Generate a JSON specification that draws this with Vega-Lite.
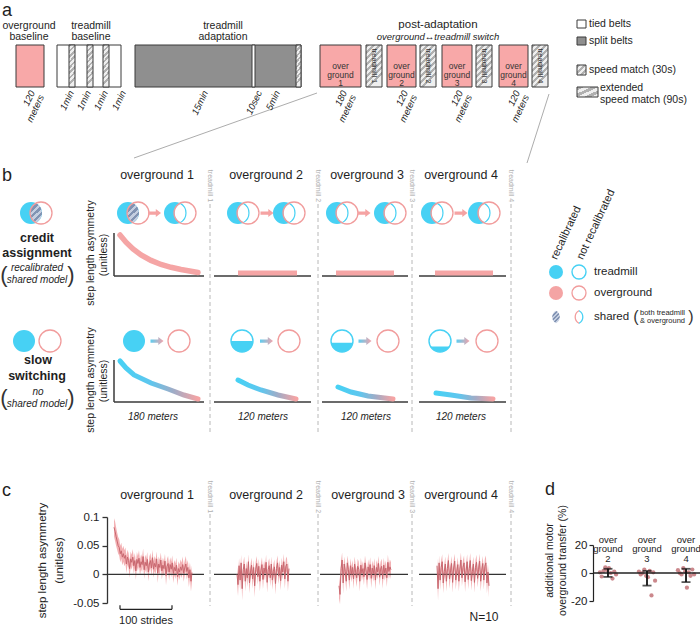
{
"$schema": "https://vega.github.io/schema/vega-lite/v6.json",
"padding": 0,
"bounds": "flush",
"spacing": 0,
"config": {"view": {"stroke": null}, "font": "Liberation Sans", "text": {"color": "#1e1e1e"}},
"datasets": {
"blk": [
{"x":15,"x2":43,"y":45,"y2":87,"k":"og"},
{"x":56,"x2":120,"y":45,"y2":87,"k":"tied"},
{"x":134,"x2":300,"y":45,"y2":87,"k":"split"},
{"x":251,"x2":254,"y":45,"y2":87,"k":"tied"},
{"x":319,"x2":360,"y":45,"y2":87,"k":"og"},
{"x":386,"x2":415,"y":45,"y2":87,"k":"og"},
{"x":441,"x2":471,"y":45,"y2":87,"k":"og"},
{"x":498,"x2":527,"y":45,"y2":87,"k":"og"},
{"x":576,"x2":585,"y":20,"y2":28,"k":"tied"},
{"x":576,"x2":585,"y":37,"y2":45,"k":"split"}
],
"hat": [
{"x":68,"x2":74,"y":45,"y2":87,"k":"thin"},
{"x":86,"x2":92,"y":45,"y2":87,"k":"thin"},
{"x":102,"x2":108,"y":45,"y2":87,"k":"thin"},
{"x":295,"x2":300,"y":45,"y2":87,"k":"thin"},
{"x":365,"x2":381,"y":45,"y2":87,"k":"box"},
{"x":419,"x2":435,"y":45,"y2":87,"k":"box"},
{"x":475,"x2":491,"y":45,"y2":87,"k":"box"},
{"x":531,"x2":547,"y":45,"y2":87,"k":"box"},
{"x":576,"x2":585,"y":65,"y2":75,"k":"leg"},
{"x":576,"x2":597,"y":87,"y2":97,"k":"leg"}
],
"ln": [
{"x":133,"y":158,"x2":316,"y2":93,"k":"conn"},
{"x":548,"y":94,"x2":526,"y2":163,"k":"conn"},
{"x":113,"y":233,"x2":113,"y2":276,"k":"ax"},
{"x":113,"y":276,"x2":203,"y2":276,"k":"ax"},
{"x":213,"y":276,"x2":310,"y2":276,"k":"ax"},
{"x":321,"y":276,"x2":407,"y2":276,"k":"ax"},
{"x":418,"y":276,"x2":505,"y2":276,"k":"ax"},
{"x":113,"y":360,"x2":113,"y2":402,"k":"ax"},
{"x":113,"y":402,"x2":203,"y2":402,"k":"ax"},
{"x":213,"y":402,"x2":310,"y2":402,"k":"ax"},
{"x":321,"y":402,"x2":407,"y2":402,"k":"ax"},
{"x":418,"y":402,"x2":505,"y2":402,"k":"ax"},
{"x":237,"y":273,"x2":296,"y2":273,"k":"pb"},
{"x":335,"y":273,"x2":393,"y2":273,"k":"pb"},
{"x":434,"y":273,"x2":492,"y2":273,"k":"pb"}
],
"sepl": [
{"x":209,"y":204,"y2":435},{"x":317,"y":204,"y2":435},{"x":411,"y":204,"y2":435},{"x":510,"y":204,"y2":435},
{"x":209,"y":514,"y2":606},{"x":317,"y":514,"y2":606},{"x":411,"y":514,"y2":606},{"x":510,"y":514,"y2":606}
],
"cv": [
{"id":"c1","x":119,"y":235},{"id":"c1","x":125,"y":242.2},{"id":"c1","x":132,"y":248.9},{"id":"c1","x":140,"y":254.9},{"id":"c1","x":150,"y":260.4},{"id":"c1","x":160,"y":264.5},{"id":"c1","x":170,"y":267.3},{"id":"c1","x":180,"y":269.5},{"id":"c1","x":190,"y":271.3},{"id":"c1","x":197,"y":272.5},
{"id":"s1","x":119,"y":361},{"id":"s1","x":125,"y":368},{"id":"s1","x":133,"y":375},{"id":"s1","x":150,"y":383},{"id":"s1","x":167,"y":389},{"id":"s1","x":183,"y":395},{"id":"s1","x":197,"y":399},
{"id":"s2","x":237,"y":380},{"id":"s2","x":247,"y":385},{"id":"s2","x":260,"y":390},{"id":"s2","x":277,"y":395},{"id":"s2","x":295,"y":399},
{"id":"s3","x":337,"y":387},{"id":"s3","x":350,"y":392},{"id":"s3","x":367,"y":396},{"id":"s3","x":392,"y":399},
{"id":"s4","x":435,"y":393},{"id":"s4","x":450,"y":395},{"id":"s4","x":470,"y":398},{"id":"s4","x":492,"y":399}
],
"ic": [
{"x":30,"y":213,"k":"cf","r":"big"},{"x":35,"y":213,"k":"lh","r":"big"},{"x":40,"y":213,"k":"pr","r":"big"},
{"x":127,"y":213,"k":"cf","r":"big"},{"x":132,"y":213,"k":"lh","r":"big"},{"x":137,"y":213,"k":"pr","r":"big"},
{"x":174,"y":213,"k":"cf","r":"big"},{"x":179,"y":213,"k":"lw","r":"big"},{"x":184,"y":213,"k":"pr","r":"big"},
{"x":237,"y":213,"k":"cf","r":"big"},{"x":242,"y":213,"k":"lw","r":"big"},{"x":247,"y":213,"k":"pr","r":"big"},
{"x":283,"y":213,"k":"cf","r":"big"},{"x":288,"y":213,"k":"lw","r":"big"},{"x":293,"y":213,"k":"pr","r":"big"},
{"x":336,"y":213,"k":"cf","r":"big"},{"x":341,"y":213,"k":"lw","r":"big"},{"x":346,"y":213,"k":"pr","r":"big"},
{"x":384,"y":213,"k":"cf","r":"big"},{"x":389,"y":213,"k":"lw","r":"big"},{"x":394,"y":213,"k":"pr","r":"big"},
{"x":431,"y":213,"k":"cf","r":"big"},{"x":436,"y":213,"k":"lw","r":"big"},{"x":441,"y":213,"k":"pr","r":"big"},
{"x":478,"y":213,"k":"cf","r":"big"},{"x":483,"y":213,"k":"lw","r":"big"},{"x":488,"y":213,"k":"pr","r":"big"},
{"x":23,"y":341,"k":"cf","r":"big"},{"x":49,"y":341,"k":"pr","r":"big"},
{"x":133,"y":341,"k":"cf","r":"big"},{"x":178,"y":341,"k":"pr","r":"big"},
{"x":241,"y":341,"k":"h50","r":"big"},{"x":241,"y":341,"k":"cr","r":"big"},{"x":288,"y":341,"k":"pr","r":"big"},
{"x":341,"y":341,"k":"h42","r":"big"},{"x":341,"y":341,"k":"cr","r":"big"},{"x":387,"y":341,"k":"pr","r":"big"},
{"x":439,"y":341,"k":"h25","r":"big"},{"x":439,"y":341,"k":"cr","r":"big"},{"x":486,"y":341,"k":"pr","r":"big"},
{"x":555,"y":272,"k":"cf","r":"small"},{"x":578,"y":272,"k":"cr","r":"small"},
{"x":555,"y":293,"k":"pf","r":"small"},{"x":578,"y":293,"k":"pr","r":"small"},
{"x":555,"y":317,"k":"lh","r":"small"},{"x":578,"y":317,"k":"lo","r":"small"}
],
"ar": [
{"x":153.5,"y":213,"k":"p"},{"x":266,"y":213,"k":"p"},{"x":363,"y":213,"k":"p"},{"x":460,"y":213,"k":"p"},
{"x":156,"y":341,"k":"g"},{"x":265.5,"y":341,"k":"g"},{"x":364,"y":341,"k":"g"},{"x":462,"y":341,"k":"g"}
],
"txt": [
{"x":1,"y":11,"t":"a","k":"letter"},
{"x":28,"y":26,"t":"overground","k":"head"},
{"x":28,"y":37,"t":"baseline","k":"head"},
{"x":90,"y":26,"t":"treadmill","k":"head"},
{"x":90,"y":37,"t":"baseline","k":"head"},
{"x":222,"y":26,"t":"treadmill","k":"head"},
{"x":222,"y":37,"t":"adaptation","k":"head"},
{"x":437,"y":25,"t":"post-adaptation","k":"headL"},
{"x":437,"y":37,"t":"overground↔treadmill switch","k":"headI"},
{"x":339.5,"y":66,"t":["over","ground","1"],"k":"box"},
{"x":400.5,"y":66,"t":["over","ground","2"],"k":"box"},
{"x":456,"y":66,"t":["over","ground","3"],"k":"box"},
{"x":512.5,"y":66,"t":["over","ground","4"],"k":"box"},
{"x":373,"y":66,"t":"treadmill 1","k":"vert"},
{"x":427,"y":66,"t":"treadmill 2","k":"vert"},
{"x":483,"y":66,"t":"treadmill 3","k":"vert"},
{"x":539,"y":66,"t":"treadmill 4","k":"vert"},
{"x":27,"y":89,"t":["120","meters"],"k":"rot"},
{"x":66,"y":89,"t":"1min","k":"rot"},
{"x":83,"y":89,"t":"1min","k":"rot"},
{"x":100,"y":89,"t":"1min","k":"rot"},
{"x":118,"y":89,"t":"1min","k":"rot"},
{"x":200,"y":89,"t":"15min","k":"rot"},
{"x":254,"y":89,"t":"10sec","k":"rot"},
{"x":272,"y":89,"t":"5min","k":"rot"},
{"x":339,"y":89,"t":["180","meters"],"k":"rot"},
{"x":400,"y":89,"t":["120","meters"],"k":"rot"},
{"x":455,"y":89,"t":["120","meters"],"k":"rot"},
{"x":512,"y":89,"t":["120","meters"],"k":"rot"},
{"x":588,"y":24,"t":"tied belts","k":"leg"},
{"x":588,"y":41,"t":"split belts","k":"leg"},
{"x":588,"y":70,"t":"speed match (30s)","k":"leg"},
{"x":599,"y":88,"t":"extended","k":"leg"},
{"x":599,"y":100,"t":"speed match (90s)","k":"leg"},
{"x":1,"y":176,"t":"b","k":"letter"},
{"x":156,"y":175,"t":"overground 1","k":"col"},
{"x":265,"y":175,"t":"overground 2","k":"col"},
{"x":366,"y":175,"t":"overground 3","k":"col"},
{"x":460,"y":175,"t":"overground 4","k":"col"},
{"x":209,"y":186,"t":"treadmill 1","k":"sep"},
{"x":317,"y":186,"t":"treadmill 2","k":"sep"},
{"x":411,"y":186,"t":"treadmill 3","k":"sep"},
{"x":510,"y":186,"t":"treadmill 4","k":"sep"},
{"x":36,"y":238,"t":"credit","k":"bold"},
{"x":36,"y":253,"t":"assignment","k":"bold"},
{"x":36,"y":268,"t":"recalibrated","k":"ital"},
{"x":36,"y":280,"t":"shared model","k":"ital"},
{"x":3,"y":275,"t":"(","k":"paren"},
{"x":70,"y":275,"t":")","k":"paren"},
{"x":37,"y":360,"t":"slow","k":"bold"},
{"x":36,"y":376,"t":"switching","k":"bold"},
{"x":37,"y":392,"t":"no","k":"ital"},
{"x":36,"y":404,"t":"shared model","k":"ital"},
{"x":3,"y":398,"t":"(","k":"paren"},
{"x":70,"y":398,"t":")","k":"paren"},
{"x":90,"y":253,"t":"step length asymmetry","k":"ytitle"},
{"x":103,"y":255,"t":"(unitless)","k":"ytitle"},
{"x":90,"y":380,"t":"step length asymmetry","k":"ytitle"},
{"x":103,"y":381,"t":"(unitless)","k":"ytitle"},
{"x":152,"y":417,"t":"180 meters","k":"mlab"},
{"x":262,"y":417,"t":"120 meters","k":"mlab"},
{"x":365,"y":417,"t":"120 meters","k":"mlab"},
{"x":460,"y":417,"t":"120 meters","k":"mlab"},
{"x":553,"y":259,"t":"recalibrated","k":"legrot"},
{"x":579,"y":259,"t":"not recalibrated","k":"legrot"},
{"x":593,"y":272,"t":"treadmill","k":"leg14"},
{"x":593,"y":293,"t":"overground","k":"leg14"},
{"x":593,"y":317,"t":"shared","k":"leg14"},
{"x":639,"y":313,"t":"both treadmill","k":"small"},
{"x":639,"y":321,"t":"& overground","k":"small"},
{"x":635,"y":317,"t":"(","k":"paren2"},
{"x":690,"y":317,"t":")","k":"paren2"},
{"x":1,"y":491,"t":"c","k":"letter"},
{"x":156,"y":495,"t":"overground 1","k":"col"},
{"x":265,"y":495,"t":"overground 2","k":"col"},
{"x":367,"y":495,"t":"overground 3","k":"col"},
{"x":460,"y":495,"t":"overground 4","k":"col"},
{"x":209,"y":497,"t":"treadmill 1","k":"sep"},
{"x":317,"y":497,"t":"treadmill 2","k":"sep"},
{"x":411,"y":497,"t":"treadmill 3","k":"sep"},
{"x":510,"y":497,"t":"treadmill 4","k":"sep"},
{"x":544,"y":490,"t":"d","k":"letter"},
{"x":483,"y":617,"t":"N=10","k":"n"}
],
"ts": [
{"p":1,"s":0,"m":0.082,"lo":0.066,"hi":0.098},{"p":1,"s":2,"m":0.075,"lo":0.058,"hi":0.092},{"p":1,"s":4,"m":0.066,"lo":0.05,"hi":0.082},{"p":1,"s":6,"m":0.058,"lo":0.043,"hi":0.073},{"p":1,"s":8,"m":0.05,"lo":0.036,"hi":0.065},{"p":1,"s":10,"m":0.047,"lo":0.033,"hi":0.061},{"p":1,"s":12,"m":0.036,"lo":0.021,"hi":0.05},{"p":1,"s":14,"m":0.041,"lo":0.027,"hi":0.055},{"p":1,"s":16,"m":0.03,"lo":0.016,"hi":0.044},{"p":1,"s":18,"m":0.036,"lo":0.022,"hi":0.05},
{"p":1,"s":20,"m":0.028,"lo":0.014,"hi":0.042},{"p":1,"s":22,"m":0.033,"lo":0.019,"hi":0.047},{"p":1,"s":24,"m":0.018,"lo":0.002,"hi":0.032},{"p":1,"s":26,"m":0.03,"lo":0.017,"hi":0.043},{"p":1,"s":28,"m":0.024,"lo":0.011,"hi":0.037},{"p":1,"s":30,"m":0.01,"lo":-0.006,"hi":0.024},{"p":1,"s":32,"m":0.027,"lo":0.014,"hi":0.04},{"p":1,"s":34,"m":0.021,"lo":0.008,"hi":0.034},{"p":1,"s":36,"m":0.03,"lo":0.017,"hi":0.044},{"p":1,"s":38,"m":0.015,"lo":0.001,"hi":0.028},
{"p":1,"s":40,"m":0.024,"lo":0.011,"hi":0.037},{"p":1,"s":42,"m":0.006,"lo":-0.01,"hi":0.02},{"p":1,"s":44,"m":0.026,"lo":0.013,"hi":0.039},{"p":1,"s":46,"m":0.019,"lo":0.006,"hi":0.032},{"p":1,"s":48,"m":0.028,"lo":0.015,"hi":0.042},{"p":1,"s":50,"m":0.012,"lo":-0.002,"hi":0.025},{"p":1,"s":52,"m":0.022,"lo":0.009,"hi":0.035},{"p":1,"s":54,"m":0.017,"lo":0.004,"hi":0.03},{"p":1,"s":56,"m":0.031,"lo":0.018,"hi":0.045},{"p":1,"s":58,"m":0.008,"lo":-0.008,"hi":0.021},
{"p":1,"s":60,"m":0.021,"lo":0.008,"hi":0.034},{"p":1,"s":62,"m":0.015,"lo":0.002,"hi":0.028},{"p":1,"s":64,"m":0.026,"lo":0.013,"hi":0.039},{"p":1,"s":66,"m":0.004,"lo":-0.012,"hi":0.017},{"p":1,"s":68,"m":0.018,"lo":0.005,"hi":0.031},{"p":1,"s":70,"m":0.024,"lo":0.011,"hi":0.037},{"p":1,"s":72,"m":0.011,"lo":-0.003,"hi":0.024},{"p":1,"s":74,"m":0.029,"lo":0.016,"hi":0.043},{"p":1,"s":76,"m":0.009,"lo":-0.006,"hi":0.022},{"p":1,"s":78,"m":0.019,"lo":0.006,"hi":0.032},
{"p":1,"s":80,"m":0.013,"lo":0.0,"hi":0.026},{"p":1,"s":82,"m":0.027,"lo":0.014,"hi":0.04},{"p":1,"s":84,"m":0.002,"lo":-0.015,"hi":0.015},{"p":1,"s":86,"m":0.018,"lo":0.005,"hi":0.031},{"p":1,"s":88,"m":0.012,"lo":-0.001,"hi":0.025},{"p":1,"s":90,"m":0.025,"lo":0.012,"hi":0.038},{"p":1,"s":92,"m":0.006,"lo":-0.009,"hi":0.019},{"p":1,"s":94,"m":0.016,"lo":0.003,"hi":0.029},{"p":1,"s":96,"m":0.01,"lo":-0.003,"hi":0.023},{"p":1,"s":98,"m":0.023,"lo":0.01,"hi":0.036},
{"p":1,"s":100,"m":-0.002,"lo":-0.019,"hi":0.011},{"p":1,"s":102,"m":0.014,"lo":0.001,"hi":0.027},{"p":1,"s":104,"m":0.019,"lo":0.006,"hi":0.032},{"p":1,"s":106,"m":0.004,"lo":-0.011,"hi":0.017},{"p":1,"s":108,"m":0.017,"lo":0.004,"hi":0.03},{"p":1,"s":110,"m":0.009,"lo":-0.005,"hi":0.022},{"p":1,"s":112,"m":0.02,"lo":0.007,"hi":0.033},{"p":1,"s":114,"m":0.001,"lo":-0.015,"hi":0.014},{"p":1,"s":116,"m":0.012,"lo":-0.001,"hi":0.025},{"p":1,"s":118,"m":0.006,"lo":-0.008,"hi":0.019},
{"p":1,"s":120,"m":0.016,"lo":0.003,"hi":0.029},{"p":1,"s":122,"m":-0.004,"lo":-0.02,"hi":0.009},{"p":1,"s":124,"m":0.01,"lo":-0.003,"hi":0.023},{"p":1,"s":126,"m":0.004,"lo":-0.01,"hi":0.017},{"p":1,"s":128,"m":0.013,"lo":0.0,"hi":0.026},{"p":1,"s":130,"m":0.007,"lo":-0.007,"hi":0.02},{"p":1,"s":132,"m":0.017,"lo":0.004,"hi":0.031},{"p":1,"s":134,"m":0.002,"lo":-0.013,"hi":0.015},{"p":1,"s":136,"m":0.011,"lo":-0.002,"hi":0.024},{"p":1,"s":138,"m":0.018,"lo":0.005,"hi":0.032},
{"p":1,"s":140,"m":0.005,"lo":-0.009,"hi":0.018},{"p":1,"s":142,"m":0.012,"lo":-0.001,"hi":0.025},{"p":1,"s":144,"m":-0.006,"lo":-0.022,"hi":0.007},{"p":1,"s":146,"m":0.008,"lo":-0.006,"hi":0.021},{"p":1,"s":148,"m":-0.012,"lo":-0.03,"hi":0.002},{"p":1,"s":150,"m":0.003,"lo":-0.012,"hi":0.016},
{"p":2,"s":0,"m":0.0,"lo":-0.015,"hi":0.013},{"p":2,"s":2,"m":-0.018,"lo":-0.038,"hi":-0.002},{"p":2,"s":4,"m":0.015,"lo":0.002,"hi":0.028},{"p":2,"s":6,"m":-0.01,"lo":-0.028,"hi":0.005},{"p":2,"s":8,"m":0.02,"lo":0.007,"hi":0.034},{"p":2,"s":10,"m":-0.025,"lo":-0.045,"hi":-0.009},{"p":2,"s":12,"m":0.008,"lo":-0.005,"hi":0.021},{"p":2,"s":14,"m":0.018,"lo":0.005,"hi":0.031},{"p":2,"s":16,"m":-0.012,"lo":-0.03,"hi":0.003},{"p":2,"s":18,"m":0.01,"lo":-0.003,"hi":0.023},
{"p":2,"s":20,"m":-0.006,"lo":-0.022,"hi":0.007},{"p":2,"s":22,"m":0.022,"lo":0.009,"hi":0.035},{"p":2,"s":24,"m":-0.015,"lo":-0.033,"hi":0.0},{"p":2,"s":26,"m":0.004,"lo":-0.009,"hi":0.017},{"p":2,"s":28,"m":0.016,"lo":0.003,"hi":0.029},{"p":2,"s":30,"m":-0.008,"lo":-0.025,"hi":0.006},{"p":2,"s":32,"m":0.012,"lo":-0.001,"hi":0.025},{"p":2,"s":34,"m":-0.02,"lo":-0.04,"hi":-0.005},{"p":2,"s":36,"m":0.009,"lo":-0.004,"hi":0.022},{"p":2,"s":38,"m":0.019,"lo":0.006,"hi":0.032},
{"p":2,"s":40,"m":-0.004,"lo":-0.018,"hi":0.009},{"p":2,"s":42,"m":0.014,"lo":0.001,"hi":0.027},{"p":2,"s":44,"m":-0.012,"lo":-0.03,"hi":0.003},{"p":2,"s":46,"m":0.006,"lo":-0.007,"hi":0.019},{"p":2,"s":48,"m":0.017,"lo":0.004,"hi":0.03},{"p":2,"s":50,"m":-0.009,"lo":-0.026,"hi":0.005},{"p":2,"s":52,"m":0.011,"lo":-0.002,"hi":0.024},{"p":2,"s":54,"m":0.002,"lo":-0.011,"hi":0.015},{"p":2,"s":56,"m":0.021,"lo":0.008,"hi":0.034},{"p":2,"s":58,"m":-0.014,"lo":-0.032,"hi":0.001},
{"p":2,"s":60,"m":0.008,"lo":-0.005,"hi":0.021},{"p":2,"s":62,"m":0.015,"lo":0.002,"hi":0.028},{"p":2,"s":64,"m":-0.006,"lo":-0.021,"hi":0.007},{"p":2,"s":66,"m":0.018,"lo":0.005,"hi":0.031},{"p":2,"s":68,"m":-0.01,"lo":-0.027,"hi":0.004},{"p":2,"s":70,"m":0.005,"lo":-0.008,"hi":0.018},{"p":2,"s":72,"m":0.013,"lo":0.0,"hi":0.026},{"p":2,"s":74,"m":-0.016,"lo":-0.035,"hi":-0.001},{"p":2,"s":76,"m":0.01,"lo":-0.003,"hi":0.023},{"p":2,"s":78,"m":0.02,"lo":0.007,"hi":0.033},
{"p":2,"s":80,"m":-0.003,"lo":-0.017,"hi":0.01},{"p":2,"s":82,"m":0.012,"lo":-0.001,"hi":0.025},{"p":2,"s":84,"m":-0.011,"lo":-0.028,"hi":0.004},{"p":2,"s":86,"m":0.016,"lo":0.003,"hi":0.029},{"p":2,"s":88,"m":0.004,"lo":-0.009,"hi":0.017},{"p":2,"s":90,"m":0.022,"lo":0.009,"hi":0.036},{"p":2,"s":92,"m":-0.008,"lo":-0.025,"hi":0.006},{"p":2,"s":94,"m":0.014,"lo":0.001,"hi":0.027},{"p":2,"s":96,"m":0.018,"lo":0.005,"hi":0.031},{"p":2,"s":98,"m":-0.012,"lo":-0.03,"hi":0.003},{"p":2,"s":100,"m":0.01,"lo":-0.003,"hi":0.023},
{"p":3,"s":0,"m":-0.02,"lo":-0.042,"hi":-0.004},{"p":3,"s":2,"m":-0.035,"lo":-0.052,"hi":-0.018},{"p":3,"s":4,"m":0.01,"lo":-0.004,"hi":0.024},{"p":3,"s":6,"m":0.025,"lo":0.011,"hi":0.038},{"p":3,"s":8,"m":-0.015,"lo":-0.034,"hi":0.0},{"p":3,"s":10,"m":0.018,"lo":0.005,"hi":0.031},{"p":3,"s":12,"m":0.005,"lo":-0.008,"hi":0.018},{"p":3,"s":14,"m":-0.012,"lo":-0.03,"hi":0.003},{"p":3,"s":16,"m":0.02,"lo":0.007,"hi":0.033},{"p":3,"s":18,"m":0.008,"lo":-0.005,"hi":0.021},
{"p":3,"s":20,"m":-0.01,"lo":-0.027,"hi":0.004},{"p":3,"s":22,"m":0.015,"lo":0.002,"hi":0.028},{"p":3,"s":24,"m":0.0,"lo":-0.014,"hi":0.013},{"p":3,"s":26,"m":0.012,"lo":-0.001,"hi":0.025},{"p":3,"s":28,"m":-0.008,"lo":-0.025,"hi":0.006},{"p":3,"s":30,"m":0.018,"lo":0.005,"hi":0.031},{"p":3,"s":32,"m":0.004,"lo":-0.009,"hi":0.017},{"p":3,"s":34,"m":-0.006,"lo":-0.022,"hi":0.007},{"p":3,"s":36,"m":0.014,"lo":0.001,"hi":0.027},{"p":3,"s":38,"m":0.009,"lo":-0.004,"hi":0.022},
{"p":3,"s":40,"m":-0.012,"lo":-0.03,"hi":0.003},{"p":3,"s":42,"m":0.016,"lo":0.003,"hi":0.029},{"p":3,"s":44,"m":0.002,"lo":-0.011,"hi":0.015},{"p":3,"s":46,"m":0.01,"lo":-0.003,"hi":0.023},{"p":3,"s":48,"m":-0.004,"lo":-0.019,"hi":0.009},{"p":3,"s":50,"m":0.02,"lo":0.007,"hi":0.033},{"p":3,"s":52,"m":0.006,"lo":-0.007,"hi":0.019},{"p":3,"s":54,"m":-0.009,"lo":-0.026,"hi":0.005},{"p":3,"s":56,"m":0.013,"lo":0.0,"hi":0.026},{"p":3,"s":58,"m":0.003,"lo":-0.01,"hi":0.016},
{"p":3,"s":60,"m":0.017,"lo":0.004,"hi":0.03},{"p":3,"s":62,"m":-0.007,"lo":-0.024,"hi":0.007},{"p":3,"s":64,"m":0.011,"lo":-0.002,"hi":0.024},{"p":3,"s":66,"m":0.001,"lo":-0.013,"hi":0.014},{"p":3,"s":68,"m":0.015,"lo":0.002,"hi":0.028},{"p":3,"s":70,"m":-0.01,"lo":-0.027,"hi":0.004},{"p":3,"s":72,"m":0.012,"lo":-0.001,"hi":0.025},{"p":3,"s":74,"m":0.004,"lo":-0.009,"hi":0.017},{"p":3,"s":76,"m":0.019,"lo":0.006,"hi":0.032},{"p":3,"s":78,"m":-0.005,"lo":-0.02,"hi":0.008},
{"p":3,"s":80,"m":0.009,"lo":-0.004,"hi":0.022},{"p":3,"s":82,"m":0.014,"lo":0.001,"hi":0.027},{"p":3,"s":84,"m":-0.008,"lo":-0.025,"hi":0.006},{"p":3,"s":86,"m":0.016,"lo":0.003,"hi":0.029},{"p":3,"s":88,"m":0.002,"lo":-0.011,"hi":0.015},{"p":3,"s":90,"m":0.011,"lo":-0.002,"hi":0.024},{"p":3,"s":92,"m":-0.006,"lo":-0.022,"hi":0.007},{"p":3,"s":94,"m":0.021,"lo":0.008,"hi":0.034},{"p":3,"s":96,"m":0.005,"lo":-0.008,"hi":0.018},{"p":3,"s":98,"m":0.013,"lo":0.0,"hi":0.026},{"p":3,"s":100,"m":0.008,"lo":-0.008,"hi":0.021},
{"p":4,"s":0,"m":0.015,"lo":0.002,"hi":0.028},{"p":4,"s":2,"m":-0.025,"lo":-0.045,"hi":-0.009},{"p":4,"s":4,"m":0.02,"lo":0.007,"hi":0.033},{"p":4,"s":6,"m":-0.01,"lo":-0.027,"hi":0.004},{"p":4,"s":8,"m":0.012,"lo":-0.001,"hi":0.025},{"p":4,"s":10,"m":0.022,"lo":0.009,"hi":0.035},{"p":4,"s":12,"m":-0.015,"lo":-0.033,"hi":0.0},{"p":4,"s":14,"m":0.005,"lo":-0.008,"hi":0.018},{"p":4,"s":16,"m":0.018,"lo":0.005,"hi":0.031},{"p":4,"s":18,"m":-0.012,"lo":-0.03,"hi":0.003},
{"p":4,"s":20,"m":0.01,"lo":-0.003,"hi":0.023},{"p":4,"s":22,"m":0.024,"lo":0.011,"hi":0.037},{"p":4,"s":24,"m":-0.008,"lo":-0.025,"hi":0.006},{"p":4,"s":26,"m":0.006,"lo":-0.007,"hi":0.019},{"p":4,"s":28,"m":0.019,"lo":0.006,"hi":0.032},{"p":4,"s":30,"m":-0.014,"lo":-0.032,"hi":0.001},{"p":4,"s":32,"m":0.011,"lo":-0.002,"hi":0.024},{"p":4,"s":34,"m":0.023,"lo":0.01,"hi":0.036},{"p":4,"s":36,"m":-0.01,"lo":-0.027,"hi":0.004},{"p":4,"s":38,"m":0.004,"lo":-0.009,"hi":0.017},
{"p":4,"s":40,"m":0.017,"lo":0.004,"hi":0.03},{"p":4,"s":42,"m":-0.012,"lo":-0.03,"hi":0.003},{"p":4,"s":44,"m":0.009,"lo":-0.004,"hi":0.022},{"p":4,"s":46,"m":0.025,"lo":0.012,"hi":0.038},{"p":4,"s":48,"m":-0.006,"lo":-0.021,"hi":0.007},{"p":4,"s":50,"m":0.012,"lo":-0.001,"hi":0.025},{"p":4,"s":52,"m":0.02,"lo":0.007,"hi":0.033},{"p":4,"s":54,"m":-0.013,"lo":-0.031,"hi":0.002},{"p":4,"s":56,"m":0.007,"lo":-0.006,"hi":0.02},{"p":4,"s":58,"m":0.022,"lo":0.009,"hi":0.035},
{"p":4,"s":60,"m":-0.009,"lo":-0.026,"hi":0.005},{"p":4,"s":62,"m":0.01,"lo":-0.003,"hi":0.023},{"p":4,"s":64,"m":0.024,"lo":0.011,"hi":0.037},{"p":4,"s":66,"m":-0.011,"lo":-0.028,"hi":0.004},{"p":4,"s":68,"m":0.005,"lo":-0.008,"hi":0.018},{"p":4,"s":70,"m":0.018,"lo":0.005,"hi":0.031},{"p":4,"s":72,"m":-0.014,"lo":-0.032,"hi":0.001},{"p":4,"s":74,"m":0.012,"lo":-0.001,"hi":0.025},{"p":4,"s":76,"m":0.021,"lo":0.008,"hi":0.034},{"p":4,"s":78,"m":-0.007,"lo":-0.023,"hi":0.007},
{"p":4,"s":80,"m":0.009,"lo":-0.004,"hi":0.022},{"p":4,"s":82,"m":0.023,"lo":0.01,"hi":0.036},{"p":4,"s":84,"m":-0.012,"lo":-0.03,"hi":0.003},{"p":4,"s":86,"m":0.006,"lo":-0.007,"hi":0.019},{"p":4,"s":88,"m":0.019,"lo":0.006,"hi":0.032},{"p":4,"s":90,"m":-0.01,"lo":-0.027,"hi":0.004},{"p":4,"s":92,"m":0.014,"lo":0.001,"hi":0.027},{"p":4,"s":94,"m":0.02,"lo":0.007,"hi":0.033},{"p":4,"s":96,"m":-0.015,"lo":-0.033,"hi":0.0},{"p":4,"s":98,"m":0.004,"lo":-0.01,"hi":0.017},{"p":4,"s":100,"m":-0.02,"lo":-0.04,"hi":-0.005}
],
"dd": [
{"g":"over ground 2","subj":1,"v":0.5},{"g":"over ground 2","subj":2,"v":-2.5},{"g":"over ground 2","subj":3,"v":1.5},{"g":"over ground 2","subj":4,"v":4},{"g":"over ground 2","subj":5,"v":2},{"g":"over ground 2","subj":6,"v":3.5},{"g":"over ground 2","subj":7,"v":0},{"g":"over ground 2","subj":8,"v":-4},{"g":"over ground 2","subj":9,"v":1},{"g":"over ground 2","subj":10,"v":-1},
{"g":"over ground 3","subj":1,"v":1},{"g":"over ground 3","subj":2,"v":-1},{"g":"over ground 3","subj":3,"v":0},{"g":"over ground 3","subj":4,"v":2.5},{"g":"over ground 3","subj":5,"v":-2},{"g":"over ground 3","subj":6,"v":-3},{"g":"over ground 3","subj":7,"v":1.5},{"g":"over ground 3","subj":8,"v":-16},{"g":"over ground 3","subj":9,"v":0.5},{"g":"over ground 3","subj":10,"v":-5.5},
{"g":"over ground 4","subj":1,"v":2},{"g":"over ground 4","subj":2,"v":0},{"g":"over ground 4","subj":3,"v":-1},{"g":"over ground 4","subj":4,"v":3.5},{"g":"over ground 4","subj":5,"v":1},{"g":"over ground 4","subj":6,"v":-10.5},{"g":"over ground 4","subj":7,"v":0.5},{"g":"over ground 4","subj":8,"v":-2},{"g":"over ground 4","subj":9,"v":2.5},{"g":"over ground 4","subj":10,"v":-1}
],
"ds": [
{"g":"over ground 2","lo":-2.8,"hi":3},
{"g":"over ground 3","lo":-9,"hi":1.5},
{"g":"over ground 4","lo":-6.5,"hi":3}
]
},
"vconcat": [
{
"width": 700, "height": 517,
"encoding": {
"x": {"field":"x","type":"quantitative","scale":{"domain":[0,700],"nice":false,"zero":false},"axis":null},
"y": {"field":"y","type":"quantitative","scale":{"domain":[0,517],"nice":false,"zero":false,"reverse":true},"axis":null}
},
"layer": [
{"data":{"name":"blk"},"mark":{"type":"rect","stroke":"#3a3a3a","strokeWidth":1},"encoding":{"x2":{"field":"x2"},"y2":{"field":"y2"},"fill":{"field":"k","type":"nominal","scale":{"domain":["og","tied","split"],"range":["#f8a8a8","#ffffff","#8f8f8f"]},"legend":null}}},
{"data":{"name":"hat"},"transform":[{"filter":"datum.k=='thin'"}],"mark":{"type":"rect","stroke":"#3a3a3a","strokeWidth":1,"fill":{"gradient":"linear","x1":0,"y1":0,"x2":0.15,"y2":1,"stops":[{"offset":0,"color":"#b0b0b0"},{"offset":0.0625,"color":"#b0b0b0"},{"offset":0.0625,"color":"#efefef"},{"offset":0.125,"color":"#efefef"},{"offset":0.125,"color":"#b0b0b0"},{"offset":0.1875,"color":"#b0b0b0"},{"offset":0.1875,"color":"#efefef"},{"offset":0.25,"color":"#efefef"},{"offset":0.25,"color":"#b0b0b0"},{"offset":0.3125,"color":"#b0b0b0"},{"offset":0.3125,"color":"#efefef"},{"offset":0.375,"color":"#efefef"},{"offset":0.375,"color":"#b0b0b0"},{"offset":0.4375,"color":"#b0b0b0"},{"offset":0.4375,"color":"#efefef"},{"offset":0.5,"color":"#efefef"},{"offset":0.5,"color":"#b0b0b0"},{"offset":0.5625,"color":"#b0b0b0"},{"offset":0.5625,"color":"#efefef"},{"offset":0.625,"color":"#efefef"},{"offset":0.625,"color":"#b0b0b0"},{"offset":0.6875,"color":"#b0b0b0"},{"offset":0.6875,"color":"#efefef"},{"offset":0.75,"color":"#efefef"},{"offset":0.75,"color":"#b0b0b0"},{"offset":0.8125,"color":"#b0b0b0"},{"offset":0.8125,"color":"#efefef"},{"offset":0.875,"color":"#efefef"},{"offset":0.875,"color":"#b0b0b0"},{"offset":0.9375,"color":"#b0b0b0"},{"offset":0.9375,"color":"#efefef"},{"offset":1,"color":"#efefef"}]}},"encoding":{"x2":{"field":"x2"},"y2":{"field":"y2"}}},
{"data":{"name":"hat"},"transform":[{"filter":"datum.k=='box'"}],"mark":{"type":"rect","stroke":"#3a3a3a","strokeWidth":1,"fill":{"gradient":"linear","x1":0,"y1":0,"x2":0.38,"y2":1,"stops":[{"offset":0,"color":"#b0b0b0"},{"offset":0.0625,"color":"#b0b0b0"},{"offset":0.0625,"color":"#efefef"},{"offset":0.125,"color":"#efefef"},{"offset":0.125,"color":"#b0b0b0"},{"offset":0.1875,"color":"#b0b0b0"},{"offset":0.1875,"color":"#efefef"},{"offset":0.25,"color":"#efefef"},{"offset":0.25,"color":"#b0b0b0"},{"offset":0.3125,"color":"#b0b0b0"},{"offset":0.3125,"color":"#efefef"},{"offset":0.375,"color":"#efefef"},{"offset":0.375,"color":"#b0b0b0"},{"offset":0.4375,"color":"#b0b0b0"},{"offset":0.4375,"color":"#efefef"},{"offset":0.5,"color":"#efefef"},{"offset":0.5,"color":"#b0b0b0"},{"offset":0.5625,"color":"#b0b0b0"},{"offset":0.5625,"color":"#efefef"},{"offset":0.625,"color":"#efefef"},{"offset":0.625,"color":"#b0b0b0"},{"offset":0.6875,"color":"#b0b0b0"},{"offset":0.6875,"color":"#efefef"},{"offset":0.75,"color":"#efefef"},{"offset":0.75,"color":"#b0b0b0"},{"offset":0.8125,"color":"#b0b0b0"},{"offset":0.8125,"color":"#efefef"},{"offset":0.875,"color":"#efefef"},{"offset":0.875,"color":"#b0b0b0"},{"offset":0.9375,"color":"#b0b0b0"},{"offset":0.9375,"color":"#efefef"},{"offset":1,"color":"#efefef"}]}},"encoding":{"x2":{"field":"x2"},"y2":{"field":"y2"}}},
{"data":{"name":"hat"},"transform":[{"filter":"datum.k=='leg'"}],"mark":{"type":"rect","stroke":"#3a3a3a","strokeWidth":1,"fill":{"gradient":"linear","x1":0,"y1":0,"x2":1,"y2":1,"stops":[{"offset":0,"color":"#b0b0b0"},{"offset":0.1667,"color":"#b0b0b0"},{"offset":0.1667,"color":"#efefef"},{"offset":0.3333,"color":"#efefef"},{"offset":0.3333,"color":"#b0b0b0"},{"offset":0.5,"color":"#b0b0b0"},{"offset":0.5,"color":"#efefef"},{"offset":0.6667,"color":"#efefef"},{"offset":0.6667,"color":"#b0b0b0"},{"offset":0.8333,"color":"#b0b0b0"},{"offset":0.8333,"color":"#efefef"},{"offset":1,"color":"#efefef"}]}},"encoding":{"x2":{"field":"x2"},"y2":{"field":"y2"}}},
{"data":{"name":"ln"},"transform":[{"filter":"datum.k=='conn'"}],"mark":{"type":"rule","color":"#a3a3a3","strokeWidth":0.9},"encoding":{"x2":{"field":"x2"},"y2":{"field":"y2"}}},
{"data":{"name":"ln"},"transform":[{"filter":"datum.k=='ax'"}],"mark":{"type":"rule","color":"#3a3a3a","strokeWidth":1.5},"encoding":{"x2":{"field":"x2"},"y2":{"field":"y2"}}},
{"data":{"name":"ln"},"transform":[{"filter":"datum.k=='pb'"}],"mark":{"type":"rule","color":"#f5a5a5","strokeWidth":5},"encoding":{"x2":{"field":"x2"},"y2":{"field":"y2"}}},
{"data":{"name":"sepl"},"mark":{"type":"rule","color":"#b8b8b8","strokeWidth":1,"strokeDash":[4,3]},"encoding":{"y2":{"field":"y2"}}},
{"data":{"name":"cv"},"transform":[{"filter":"datum.id=='c1'"}],"mark":{"type":"line","color":"#f5a5a5","strokeWidth":5.5,"strokeCap":"round"},"encoding":{}},
{"data":{"name":"cv"},"transform":[{"filter":"datum.id!='c1'"}],"mark":{"type":"line","strokeWidth":5,"strokeCap":"round","stroke":{"gradient":"linear","x1":0,"y1":0,"x2":1,"y2":0,"stops":[{"offset":0,"color":"#47d1f4"},{"offset":0.4,"color":"#5fc6ee"},{"offset":0.7,"color":"#a3abc5"},{"offset":1,"color":"#f6a3a3"}]}},"encoding":{"detail":{"field":"id","type":"nominal"}}},
{"data":{"name":"ic"},"transform":[{"filter":"datum.k=='cf'"}],"mark":{"type":"point","shape":"circle","filled":true,"fill":"#47d1f4","opacity":1,"strokeWidth":0},"encoding":{"size":{"field":"r","type":"ordinal","scale":{"domain":["big","small"],"range":[484,196]},"legend":null}}},
{"data":{"name":"ic"},"transform":[{"filter":"datum.k=='pf'"}],"mark":{"type":"point","shape":"circle","filled":true,"fill":"#f4a4a4","opacity":1,"strokeWidth":0},"encoding":{"size":{"field":"r","type":"ordinal","scale":{"domain":["big","small"],"range":[484,196]},"legend":null}}},
{"data":{"name":"ic"},"transform":[{"filter":"indexof(['h50','h42','h25'], datum.k) >= 0"}],"mark":{"type":"point","filled":true,"fill":"#47d1f4","opacity":1,"strokeWidth":0},"encoding":{"shape":{"field":"k","type":"nominal","scale":{"domain":["h50","h42","h25"],"range":["M-1,0A1,1 0 0,0 1,0Z","M-0.987,0.16A1,1 0 0,0 0.987,0.16Z","M-0.866,0.5A1,1 0 0,0 0.866,0.5Z"]},"legend":null},"size":{"field":"r","type":"ordinal","scale":{"domain":["big","small"],"range":[484,196]},"legend":null}}},
{"data":{"name":"ic"},"transform":[{"filter":"datum.k=='lh'"}],"mark":{"type":"point","shape":"M0,-0.89A1,1 0 0,1 0,0.89A1,1 0 0,1 0,-0.89Z","filled":true,"opacity":1,"strokeWidth":0,"fill":{"gradient":"linear","x1":0,"y1":0,"x2":0.6,"y2":1,"stops":[{"offset":0,"color":"#8193b3"},{"offset":0.125,"color":"#8193b3"},{"offset":0.125,"color":"#c4cee0"},{"offset":0.25,"color":"#c4cee0"},{"offset":0.25,"color":"#8193b3"},{"offset":0.375,"color":"#8193b3"},{"offset":0.375,"color":"#c4cee0"},{"offset":0.5,"color":"#c4cee0"},{"offset":0.5,"color":"#8193b3"},{"offset":0.625,"color":"#8193b3"},{"offset":0.625,"color":"#c4cee0"},{"offset":0.75,"color":"#c4cee0"},{"offset":0.75,"color":"#8193b3"},{"offset":0.875,"color":"#8193b3"},{"offset":0.875,"color":"#c4cee0"},{"offset":1,"color":"#c4cee0"}]}},"encoding":{"size":{"field":"r","type":"ordinal","scale":{"domain":["big","small"],"range":[484,196]},"legend":null}}},
{"data":{"name":"ic"},"transform":[{"filter":"datum.k=='lw'"}],"mark":{"type":"point","shape":"M0,-0.89A1,1 0 0,1 0,0.89A1,1 0 0,1 0,-0.89Z","filled":true,"fill":"#ffffff","stroke":"#47d1f4","strokeWidth":1.2,"opacity":1},"encoding":{"size":{"field":"r","type":"ordinal","scale":{"domain":["big","small"],"range":[484,196]},"legend":null}}},
{"data":{"name":"ic"},"transform":[{"filter":"datum.k=='cr'"}],"mark":{"type":"point","shape":"circle","filled":false,"stroke":"#47d1f4","strokeWidth":1.4,"opacity":1},"encoding":{"size":{"field":"r","type":"ordinal","scale":{"domain":["big","small"],"range":[484,196]},"legend":null}}},
{"data":{"name":"ic"},"transform":[{"filter":"datum.k=='pr'"}],"mark":{"type":"point","shape":"circle","filled":false,"stroke":"#f19c9c","strokeWidth":1.3,"opacity":1},"encoding":{"size":{"field":"r","type":"ordinal","scale":{"domain":["big","small"],"range":[484,196]},"legend":null}}},
{"data":{"name":"ic"},"transform":[{"filter":"datum.k=='lo'"}],"mark":{"type":"point","shape":"M0,-0.89A1,1 0 0,1 0,0.89A1,1 0 0,1 0,-0.89Z","filled":false,"strokeWidth":1.3,"opacity":1,"stroke":{"gradient":"linear","x1":0,"y1":0,"x2":1,"y2":0,"stops":[{"offset":0,"color":"#f19c9c"},{"offset":0.5,"color":"#f19c9c"},{"offset":0.5,"color":"#47d1f4"},{"offset":1,"color":"#47d1f4"}]}},"encoding":{"size":{"field":"r","type":"ordinal","scale":{"domain":["big","small"],"range":[484,196]},"legend":null}}},
{"data":{"name":"ar"},"transform":[{"filter":"datum.k=='p'"}],"mark":{"type":"point","shape":"M-1,-0.25L0.2,-0.25L0.2,-0.62L1,0L0.2,0.62L0.2,0.25L-1,0.25Z","size":169,"filled":true,"fill":"#f5a3a3","opacity":1,"strokeWidth":0},"encoding":{}},
{"data":{"name":"ar"},"transform":[{"filter":"datum.k=='g'"}],"mark":{"type":"point","shape":"M-1,-0.25L0.2,-0.25L0.2,-0.62L1,0L0.2,0.62L0.2,0.25L-1,0.25Z","size":169,"filled":true,"opacity":1,"strokeWidth":0,"fill":{"gradient":"linear","x1":0,"y1":0,"x2":1,"y2":0,"stops":[{"offset":0,"color":"#5fcdf0"},{"offset":1,"color":"#f3a3aa"}]}},"encoding":{}},
{"data":{"name":"txt"},"transform":[{"filter":"datum.k=='letter'"}],"mark":{"type":"text","fontSize":18,"align":"left","baseline":"middle"},"encoding":{"text":{"field":"t","type":"nominal"}}},
{"data":{"name":"txt"},"transform":[{"filter":"datum.k=='head'"}],"mark":{"type":"text","fontSize":10.5,"align":"center","baseline":"middle"},"encoding":{"text":{"field":"t","type":"nominal"}}},
{"data":{"name":"txt"},"transform":[{"filter":"datum.k=='headL'"}],"mark":{"type":"text","fontSize":11.5,"align":"center","baseline":"middle"},"encoding":{"text":{"field":"t","type":"nominal"}}},
{"data":{"name":"txt"},"transform":[{"filter":"datum.k=='headI'"}],"mark":{"type":"text","fontSize":9.5,"fontStyle":"italic","align":"center","baseline":"middle"},"encoding":{"text":{"field":"t","type":"nominal"}}},
{"data":{"name":"txt"},"transform":[{"filter":"datum.k=='box'"}],"mark":{"type":"text","fontSize":8.5,"lineHeight":8.5,"color":"#333333","align":"center","baseline":"middle"},"encoding":{"text":{"field":"t","type":"nominal"}}},
{"data":{"name":"txt"},"transform":[{"filter":"datum.k=='vert'"}],"mark":{"type":"text","fontSize":7.5,"angle":90,"color":"#333333","align":"center","baseline":"middle"},"encoding":{"text":{"field":"t","type":"nominal"}}},
{"data":{"name":"txt"},"transform":[{"filter":"datum.k=='rot'"}],"mark":{"type":"text","fontSize":9.5,"lineHeight":10,"angle":-65,"align":"right","baseline":"top","fontStyle":"italic"},"encoding":{"text":{"field":"t","type":"nominal"}}},
{"data":{"name":"txt"},"transform":[{"filter":"datum.k=='leg'"}],"mark":{"type":"text","fontSize":10.5,"align":"left","baseline":"middle"},"encoding":{"text":{"field":"t","type":"nominal"}}},
{"data":{"name":"txt"},"transform":[{"filter":"datum.k=='col'"}],"mark":{"type":"text","fontSize":12.5,"align":"center","baseline":"middle"},"encoding":{"text":{"field":"t","type":"nominal"}}},
{"data":{"name":"txt"},"transform":[{"filter":"datum.k=='sep'"}],"mark":{"type":"text","fontSize":7,"angle":90,"color":"#b0b0b0","align":"center","baseline":"middle"},"encoding":{"text":{"field":"t","type":"nominal"}}},
{"data":{"name":"txt"},"transform":[{"filter":"datum.k=='bold'"}],"mark":{"type":"text","fontSize":12.5,"fontWeight":"bold","align":"center","baseline":"middle"},"encoding":{"text":{"field":"t","type":"nominal"}}},
{"data":{"name":"txt"},"transform":[{"filter":"datum.k=='ital'"}],"mark":{"type":"text","fontSize":10,"fontStyle":"italic","align":"center","baseline":"middle"},"encoding":{"text":{"field":"t","type":"nominal"}}},
{"data":{"name":"txt"},"transform":[{"filter":"datum.k=='paren'"}],"mark":{"type":"text","fontSize":22,"color":"#333333","align":"center","baseline":"middle"},"encoding":{"text":{"field":"t","type":"nominal"}}},
{"data":{"name":"txt"},"transform":[{"filter":"datum.k=='ytitle'"}],"mark":{"type":"text","fontSize":10.5,"angle":-90,"align":"center","baseline":"middle"},"encoding":{"text":{"field":"t","type":"nominal"}}},
{"data":{"name":"txt"},"transform":[{"filter":"datum.k=='mlab'"}],"mark":{"type":"text","fontSize":10,"fontStyle":"italic","align":"center","baseline":"middle"},"encoding":{"text":{"field":"t","type":"nominal"}}},
{"data":{"name":"txt"},"transform":[{"filter":"datum.k=='legrot'"}],"mark":{"type":"text","fontSize":11,"angle":-65,"align":"left","baseline":"middle"},"encoding":{"text":{"field":"t","type":"nominal"}}},
{"data":{"name":"txt"},"transform":[{"filter":"datum.k=='leg14'"}],"mark":{"type":"text","fontSize":11.5,"align":"left","baseline":"middle"},"encoding":{"text":{"field":"t","type":"nominal"}}},
{"data":{"name":"txt"},"transform":[{"filter":"datum.k=='small'"}],"mark":{"type":"text","fontSize":7.5,"align":"left","baseline":"middle"},"encoding":{"text":{"field":"t","type":"nominal"}}},
{"data":{"name":"txt"},"transform":[{"filter":"datum.k=='paren2'"}],"mark":{"type":"text","fontSize":16,"color":"#333333","align":"center","baseline":"middle"},"encoding":{"text":{"field":"t","type":"nominal"}}},
{"data":{"name":"txt"},"transform":[{"filter":"datum.k=='n'"}],"mark":{"type":"text","fontSize":12,"align":"center","baseline":"middle"},"encoding":{"text":{"field":"t","type":"nominal"}}}
]
},
{
"bounds": "flush",
"spacing": 0,
"hconcat": [
{"width":106,"height":86,"data":{"values":[]},"mark":"point"},
{
"width":103,"height":86,
"layer":[
{"data":{"name":"ts"},"transform":[{"filter":"datum.p==1"}],"mark":{"type":"area","color":"#f2a8ac","opacity":0.9},"encoding":{"x":{"field":"s","type":"quantitative","scale":{"domain":[-13.5,184.6],"nice":false,"zero":false},"axis":null},"y":{"field":"hi","type":"quantitative","scale":{"domain":[-0.05,0.1],"nice":false,"zero":false},"axis":{"values":[-0.05,0,0.05,0.1],"tickCount":10,"labelExpr":"toString(datum.value)","labelOverlap":false,"labelFontSize":11.5,"labelColor":"#222222","tickSize":5,"tickColor":"#333333","tickWidth":1.3,"domainColor":"#333333","domainWidth":1.3,"labelPadding":3,"grid":false,"title":["step length asymmetry","(unitless)"],"titleFontSize":11.5,"titleFontWeight":"normal","titleColor":"#222222","titlePadding":8,"titleLineHeight":17}},"y2":{"field":"lo"}}},
{"data":{"values":[{}]},"mark":{"type":"rule","color":"#333333","strokeWidth":1.3},"encoding":{"x":{"datum":-13.5,"type":"quantitative"},"x2":{"datum":173},"y":{"datum":0,"type":"quantitative"}}},
{"data":{"name":"ts"},"transform":[{"filter":"datum.p==1"}],"mark":{"type":"line","color":"#c8676f","strokeWidth":1},"encoding":{"x":{"field":"s","type":"quantitative"},"y":{"field":"m","type":"quantitative"}}},
{"data":{"values":[{}]},"mark":{"type":"rule","color":"#222222","strokeWidth":1.2},"encoding":{"x":{"datum":11.5,"type":"quantitative"},"x2":{"datum":111.5},"y":{"datum":-0.061,"type":"quantitative"}}},
{"data":{"values":[{}]},"mark":{"type":"rule","color":"#222222","strokeWidth":1.2},"encoding":{"x":{"datum":11.5,"type":"quantitative"},"y":{"datum":-0.061,"type":"quantitative"},"y2":{"datum":-0.054}}},
{"data":{"values":[{}]},"mark":{"type":"rule","color":"#222222","strokeWidth":1.2},"encoding":{"x":{"datum":111.5,"type":"quantitative"},"y":{"datum":-0.061,"type":"quantitative"},"y2":{"datum":-0.054}}},
{"data":{"values":[{}]},"mark":{"type":"text","fontSize":11,"align":"center","baseline":"middle"},"encoding":{"x":{"datum":61.5,"type":"quantitative"},"y":{"datum":-0.082,"type":"quantitative"},"text":{"value":"100 strides"}}}
]
},
{
"width":108,"height":86,
"layer":[
{"data":{"name":"ts"},"transform":[{"filter":"datum.p==2"}],"mark":{"type":"area","color":"#f2a8ac","opacity":0.9},"encoding":{"x":{"field":"s","type":"quantitative","scale":{"domain":[-51.9,155.8],"nice":false,"zero":false},"axis":null},"y":{"field":"hi","type":"quantitative","scale":{"domain":[-0.05,0.1],"nice":false,"zero":false},"axis":null},"y2":{"field":"lo"}}},
{"data":{"values":[{}]},"mark":{"type":"rule","color":"#333333","strokeWidth":1.3},"encoding":{"x":{"datum":-44.2,"type":"quantitative"},"x2":{"datum":142.3},"y":{"datum":0,"type":"quantitative"}}},
{"data":{"name":"ts"},"transform":[{"filter":"datum.p==2"}],"mark":{"type":"line","color":"#c8676f","strokeWidth":1},"encoding":{"x":{"field":"s","type":"quantitative"},"y":{"field":"m","type":"quantitative"}}}
]
},
{
"width":94,"height":86,
"layer":[
{"data":{"name":"ts"},"transform":[{"filter":"datum.p==3"}],"mark":{"type":"area","color":"#f2a8ac","opacity":0.9},"encoding":{"x":{"field":"s","type":"quantitative","scale":{"domain":[-40.4,140.4],"nice":false,"zero":false},"axis":null},"y":{"field":"hi","type":"quantitative","scale":{"domain":[-0.05,0.1],"nice":false,"zero":false},"axis":null},"y2":{"field":"lo"}}},
{"data":{"values":[{}]},"mark":{"type":"rule","color":"#333333","strokeWidth":1.3},"encoding":{"x":{"datum":-36.5,"type":"quantitative"},"x2":{"datum":132.7},"y":{"datum":0,"type":"quantitative"}}},
{"data":{"name":"ts"},"transform":[{"filter":"datum.p==3"}],"mark":{"type":"line","color":"#c8676f","strokeWidth":1},"encoding":{"x":{"field":"s","type":"quantitative"},"y":{"field":"m","type":"quantitative"}}}
]
},
{
"width":99,"height":86,
"layer":[
{"data":{"name":"ts"},"transform":[{"filter":"datum.p==4"}],"mark":{"type":"area","color":"#f2a8ac","opacity":0.9},"encoding":{"x":{"field":"s","type":"quantitative","scale":{"domain":[-48.1,142.3],"nice":false,"zero":false},"axis":null},"y":{"field":"hi","type":"quantitative","scale":{"domain":[-0.05,0.1],"nice":false,"zero":false},"axis":null},"y2":{"field":"lo"}}},
{"data":{"values":[{}]},"mark":{"type":"rule","color":"#333333","strokeWidth":1.3},"encoding":{"x":{"datum":-34.6,"type":"quantitative"},"x2":{"datum":132.7},"y":{"datum":0,"type":"quantitative"}}},
{"data":{"name":"ts"},"transform":[{"filter":"datum.p==4"}],"mark":{"type":"line","color":"#c8676f","strokeWidth":1},"encoding":{"x":{"field":"s","type":"quantitative"},"y":{"field":"m","type":"quantitative"}}}
]
},
{"width":82,"height":86,"data":{"values":[]},"mark":"point"},
{
"bounds": "flush",
"spacing": 0,
"vconcat": [
{"width":108,"height":28,"data":{"values":[]},"mark":"point"},
{
"width":108,"height":56,
"layer":[
{"data":{"name":"dd"},"mark":{"type":"point","filled":true,"color":"#c27378","opacity":0.85,"size":18},"encoding":{
"x":{"field":"g","type":"nominal","scale":{"domain":["over ground 2","over ground 3","over ground 4"],"paddingInner":0.54,"paddingOuter":0.154},"axis":{"orient":"top","title":null,"domain":false,"ticks":false,"tickSize":0,"labelAngle":0,"labelExpr":"split(datum.label,' ')","labelFontSize":9.5,"labelLineHeight":9.5,"labelPadding":1,"labelColor":"#222222"}},
"xOffset":{"field":"subj","type":"nominal"},
"y":{"field":"v","type":"quantitative","scale":{"domain":[-20,20],"nice":false,"zero":false},"axis":{"values":[-20,0,20],"tickCount":10,"labelExpr":"toString(datum.value)","labelOverlap":false,"labelFontSize":11.5,"labelColor":"#222222","tickSize":4,"tickColor":"#222222","domainColor":"#222222","tickWidth":1.2,"domainWidth":1.2,"labelPadding":2,"grid":false,"title":["additional motor","overground transfer (%)"],"titleFontSize":10.5,"titleFontWeight":"normal","titleColor":"#222222","titlePadding":3,"titleLineHeight":13,"titleY":15}}}},
{"data":{"values":[{}]},"mark":{"type":"rule","color":"#222222","strokeWidth":1.3},"encoding":{"y":{"datum":0,"type":"quantitative"}}},
{"data":{"name":"ds"},"mark":{"type":"rule","color":"#111111","strokeWidth":1.8},"encoding":{"x":{"field":"g","type":"nominal"},"y":{"field":"lo","type":"quantitative"},"y2":{"field":"hi"}}},
{"data":{"name":"ds"},"mark":{"type":"tick","color":"#111111","thickness":1.8,"size":9},"encoding":{"x":{"field":"g","type":"nominal"},"y":{"field":"lo","type":"quantitative"}}},
{"data":{"name":"ds"},"mark":{"type":"tick","color":"#111111","thickness":1.8,"size":9},"encoding":{"x":{"field":"g","type":"nominal"},"y":{"field":"hi","type":"quantitative"}}}
]
}
]
}
]
}
]
}
